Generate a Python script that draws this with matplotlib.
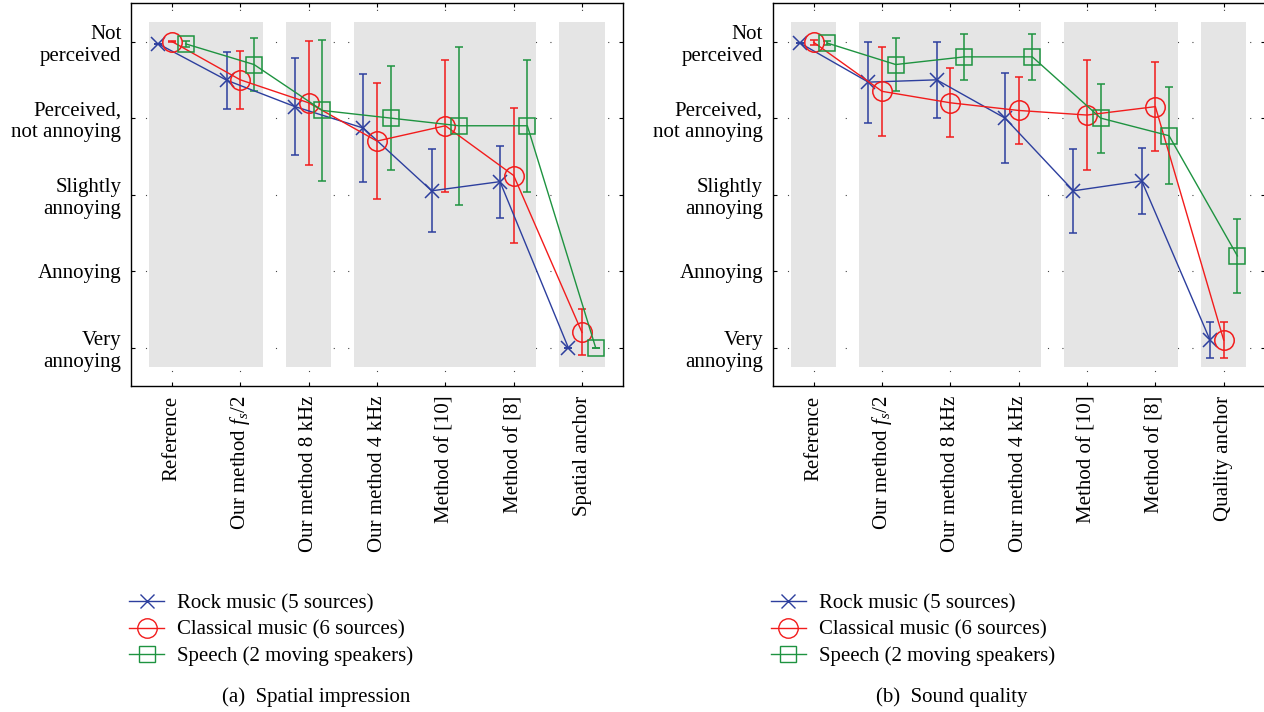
import matplotlib
matplotlib.use("Agg")
import matplotlib.pyplot as plt
from matplotlib.patches import Rectangle
from matplotlib.lines import Line2D

plt.rcParams['font.family'] = ['Liberation Serif', 'DejaVu Serif']
plt.rcParams['mathtext.fontset'] = 'custom'
plt.rcParams['mathtext.rm'] = 'Liberation Serif'
plt.rcParams['mathtext.it'] = 'Liberation Serif:italic'

# ---------------- data ----------------
levels = [1, 2, 3, 4, 5]
level_labels = ["Very\nannoying", "Annoying", "Slightly\nannoying",
                "Perceived,\nnot annoying", "Not\nperceived"]

cats_a = ["Reference", r"Our method $f_s/2$", "Our method 8 kHz", "Our method 4 kHz",
          "Method of [10]", "Method of [8]", "Spatial anchor"]
cats_b = ["Reference", r"Our method $f_s/2$", "Our method 8 kHz", "Our method 4 kHz",
          "Method of [10]", "Method of [8]", "Quality anchor"]

series_names = ["Rock music (5 sources)", "Classical music (6 sources)",
                "Speech (2 moving speakers)"]

# (a) Spatial impression
rock_a = [4.97, 4.495, 4.15, 3.87, 3.05, 3.17, 1.00]
rock_a_err = [0.0, 0.375, 0.63, 0.71, 0.54, 0.47, 0.0]
class_a = [5.00, 4.50, 4.20, 3.70, 3.90, 3.25, 1.20]
class_a_err = [0.01, 0.375, 0.81, 0.76, 0.86, 0.88, 0.30]
speech_a = [4.97, 4.70, 4.10, 4.00, 3.90, 3.90, 1.00]
speech_a_err = [0.04, 0.345, 0.92, 0.675, 1.035, 0.86, 0.0]

# (b) Sound quality
rock_b = [4.98, 4.47, 4.50, 4.00, 3.05, 3.18, 1.10]
rock_b_err = [0.0, 0.53, 0.50, 0.585, 0.545, 0.43, 0.23]
class_b = [4.99, 4.35, 4.20, 4.10, 4.04, 4.15, 1.10]
class_b_err = [0.03, 0.585, 0.45, 0.44, 0.72, 0.585, 0.23]
speech_b = [4.98, 4.70, 4.80, 4.80, 4.00, 3.77, 2.20]
speech_b_err = [0.03, 0.345, 0.30, 0.30, 0.45, 0.63, 0.48]

groups_a = [(0, 1), (2, 2), (3, 5), (6, 6)]
groups_b = [(0, 0), (1, 3), (4, 5), (6, 6)]

captions = ["(a)  Spatial impression", "(b)  Sound quality"]

# ---------------- style ----------------
colors = ["#2d3f9e", "#f21c1c", "#1e9340"]
markers = ["x", "o", "s"]
msizes = [10, 14, 11]
offsets = [-0.2, 0.0, 0.2]
FS = 15

W, H = 1264, 712
fig = plt.figure(figsize=(W / 100, H / 100), dpi=100)

ax_boxes = [(131, 3.3, 623, 386), (772.7, 3.3, 1264.7, 386)]
panels = [
    (cats_a, [(rock_a, rock_a_err), (class_a, class_a_err), (speech_a, speech_a_err)], groups_a),
    (cats_b, [(rock_b, rock_b_err), (class_b, class_b_err), (speech_b, speech_b_err)], groups_b),
]

for (x0, y0, x1, y1), (cats, data, groups), cap, capx in zip(
        ax_boxes, panels, captions, [316, 952]):
    ax = fig.add_axes([x0 / W, 1 - y1 / H, (x1 - x0) / W, (y1 - y0) / H])
    n = len(cats)
    xs = list(range(n))
    ax.set_xlim(-0.6, n - 1 + 0.6)
    ax.set_ylim(0.5, 5.5)
    ax.set_axisbelow(True)
    ax.grid(True, linestyle=(0, (1, 12)), linewidth=0.8, color="#444444")
    for g0, g1 in groups:
        ax.add_patch(Rectangle((g0 - 0.33, 0.75), (g1 - g0) + 0.66, 4.5,
                               facecolor="#e5e5e5", edgecolor="none", zorder=1))
    for (vals, errs), c, m, ms, off in zip(data, colors, markers, msizes, offsets):
        xx = [x + off for x in xs]
        ax.errorbar(xx, vals, yerr=errs, color=c, ecolor=c, elinewidth=1.1,
                    capsize=3, capthick=1.1, marker=m, markersize=ms,
                    markerfacecolor="none", markeredgecolor=c, markeredgewidth=1.1,
                    linewidth=1.0, zorder=3)
    ax.set_xticks(xs)
    ax.set_xticklabels(cats, rotation=90, fontsize=FS)
    ax.set_yticks(levels)
    ax.set_yticklabels(level_labels, fontsize=FS, multialignment="right",
                       linespacing=1.2)
    ax.tick_params(direction="in", length=3, width=0.8, top=True, right=True,
                   pad=7)
    for sp in ax.spines.values():
        sp.set_linewidth(1.0)

    handles = [Line2D([], [], color=c, marker=m, markersize=ms,
                      markerfacecolor="none", markeredgecolor=c, linewidth=1.0)
               for c, m, ms in zip(colors, markers, msizes)]
    fig.legend(handles, series_names, loc="upper left",
               bbox_to_anchor=((x0 - 2) / W, 1 - 594 / H), frameon=False,
               fontsize=FS, handlelength=1.7, handletextpad=0.6,
               labelspacing=0.32, borderpad=0, borderaxespad=0)
    fig.text(capx / W, 1 - 697 / H, cap, ha="center", va="center", fontsize=FS)

fig.savefig("out.png", dpi=100)
